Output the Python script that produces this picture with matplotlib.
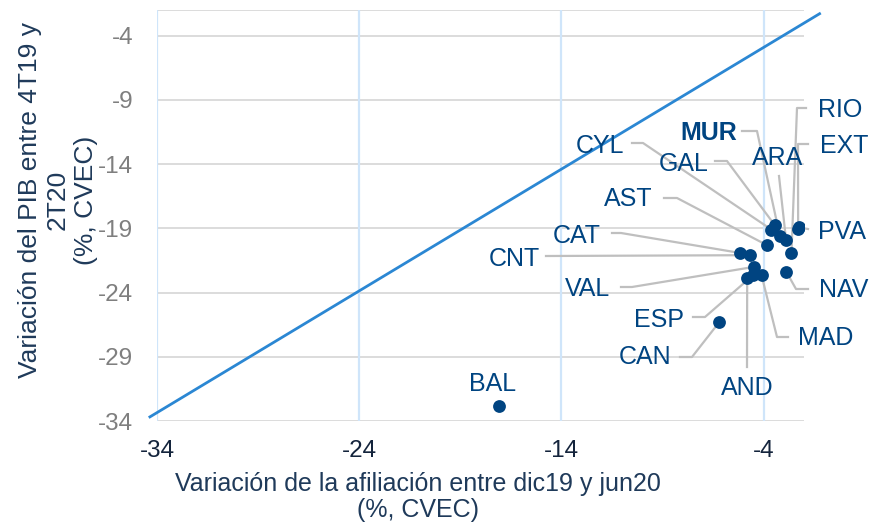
import matplotlib
matplotlib.use("Agg")
import matplotlib.pyplot as plt

# regions: affiliation change (x) vs GDP change (y), both %, CVEC
regions = ["RIO", "EXT", "PVA", "ARA", "MUR", "GAL", "CYL", "AST", "CAT",
           "CNT", "VAL", "ESP", "CAN", "AND", "MAD", "NAV", "BAL"]
afiliacion = [-2.62, -2.29, -2.27, -2.89, -3.19, -3.44, -3.61, -3.82, -5.15,
              -4.65, -4.47, -4.52, -6.19, -4.81, -4.10, -2.87, -17.1]
pib = [-20.92, -19.02, -18.92, -19.87, -19.62, -18.76, -19.10, -20.32, -20.92,
       -21.09, -22.00, -22.65, -26.30, -22.90, -22.65, -22.39, -32.83]

# reference line (approx. 45 degrees)
ref_x = [-34.35, -1.23]
ref_y = [-33.68, -2.29]

x_ticks = [-34, -24, -14, -4]
y_ticks = [-34, -29, -24, -19, -14, -9, -4]

# label layout in figure pixels (from top-left): text centre, leader points
label_layout = {
    "RIO": ((840, 110), [(806, 108), (797, 108)]),
    "EXT": ((844, 146), [(808, 144), (798, 144)]),
    "PVA": ((842, 232), [(808, 229)]),
    "ARA": ((778, 158), [(779, 176)]),
    "MUR": ((709, 133), [(742, 131), (757, 131)]),
    "GAL": ((684, 164), [(715, 161), (727, 161)]),
    "CYL": ((600, 146), [(632, 143), (643, 143)]),
    "AST": ((628, 199), [(664, 198), (677, 198)]),
    "CAT": ((577, 236), [(612, 233), (621, 233)]),
    "CNT": ((514, 259), [(546, 256)]),
    "VAL": ((588, 289), [(621, 287), (632, 287)]),
    "ESP": ((659, 320), [(693, 317), (705, 317)]),
    "CAN": ((645, 357), [(680, 357), (692, 357)]),
    "AND": ((747, 388), [(747, 367)]),
    "MAD": ((826, 338), [(788, 337), (777, 337)]),
    "NAV": ((844, 290), [(808, 289), (796, 289)]),
    "BAL": ((493, 384), []),
}

W, H = 871, 525
navy = "#004481"
plt.rcParams["font.family"] = ["Liberation Sans", "DejaVu Sans"]
plt.rcParams["axes.unicode_minus"] = False

fig = plt.figure(figsize=(W / 100, H / 100), dpi=100)
ax = fig.add_axes([157 / W, 1 - 421 / H, (804 - 157) / W, (421 - 10) / H])
ax.set_xlim(-34, -2)
ax.set_ylim(-34, -2)

for s in ax.spines.values():
    s.set_visible(False)
for y in y_ticks + [-2]:
    ax.axhline(y, color="#d9d9d9", lw=1.3, zorder=0)
for x in x_ticks:
    ax.axvline(x, color="#cfe5fa", lw=1.6, zorder=0)

ax.set_xticks(x_ticks)
ax.set_yticks(y_ticks)
ax.tick_params(axis="x", length=0, pad=14, labelsize=17.5, labelcolor="#14243c")
ax.tick_params(axis="y", length=0, pad=17, labelsize=17.5, labelcolor="#7f7f7f")

ax.plot(ref_x, ref_y, color="#2b87d3", lw=2, clip_on=False, zorder=2)

inv = ax.transData.inverted()


def px(p):
    return inv.transform((p[0], H - p[1]))


for name, xv, yv in zip(regions, afiliacion, pib):
    (tx, ty), leader = label_layout[name]
    if leader:
        pts = [px(p) for p in leader] + [(xv, yv)]
        ax.plot([p[0] for p in pts], [p[1] for p in pts], color="#bfbfbf",
                lw=1.6, zorder=1, clip_on=False)
    ax.text(*px((tx, ty)), name, ha="center", va="center", fontsize=18,
            color=navy, fontweight="bold" if name == "MUR" else "normal")

ax.scatter(afiliacion, pib, s=85, color=navy, zorder=3, linewidths=0)

fig.text(58 / W, 1 - 200 / H, "Variación del PIB entre 4T19 y\n2T20\n(%, CVEC)",
         rotation=90, ha="center", va="center", fontsize=19,
         color="#1f3a5a", linespacing=1.2, multialignment="center")
fig.text(418 / W, 1 - 497 / H,
         "Variación de la afiliación entre dic19 y jun20\n(%, CVEC)",
         ha="center", va="center", fontsize=18, color="#1f3a5a",
         linespacing=1.1, multialignment="center")

fig.savefig("out.png", dpi=100)
